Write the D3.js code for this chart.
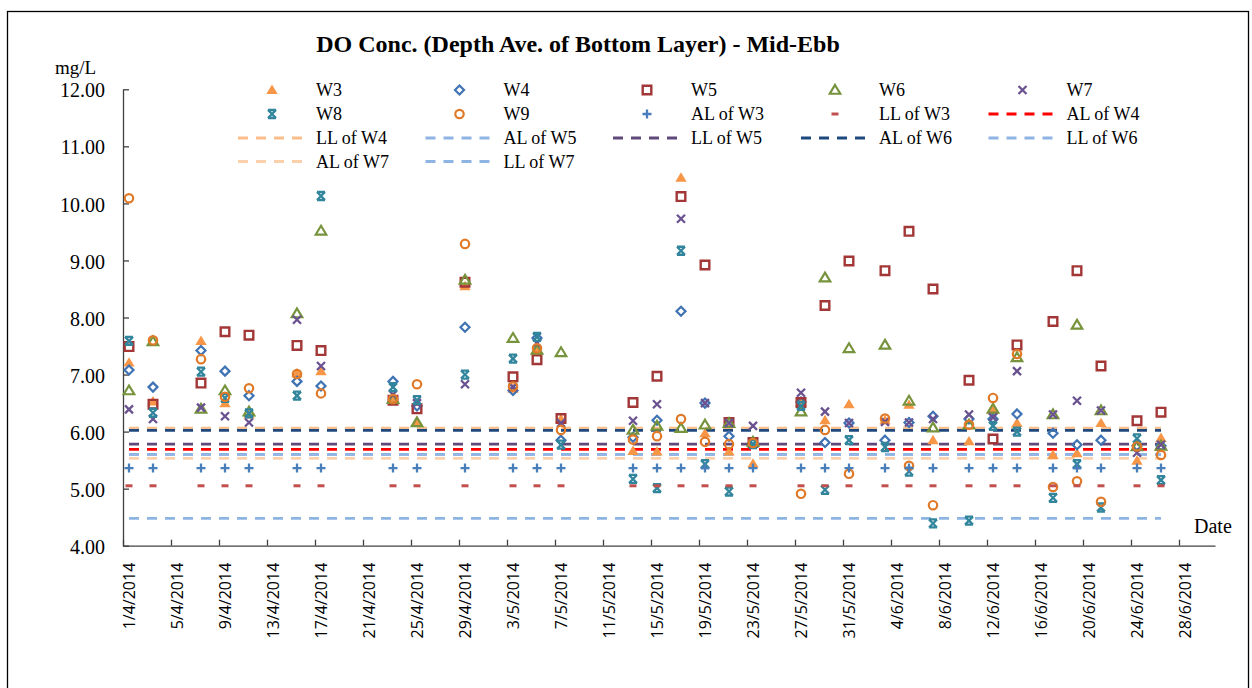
<!DOCTYPE html>
<html>
<head>
<meta charset="utf-8">
<script src="https://cdn.jsdelivr.net/npm/d3@7"></script>
<style>
  body { margin: 0; background: #fff; }
  svg { display: block; }
</style>
</head>
<body>
<div id="chart"></div>
<script>
// sampling dates (d/m/yyyy)
const dates = ["1/4/2014", "3/4/2014", "7/4/2014", "9/4/2014", "11/4/2014", "15/4/2014", "17/4/2014",
  "23/4/2014", "25/4/2014", "29/4/2014", "3/5/2014", "5/5/2014", "7/5/2014", "13/5/2014", "15/5/2014",
  "17/5/2014", "19/5/2014", "21/5/2014", "23/5/2014", "27/5/2014", "29/5/2014", "31/5/2014", "3/6/2014",
  "5/6/2014", "7/6/2014", "10/6/2014", "12/6/2014", "14/6/2014", "17/6/2014", "19/6/2014", "21/6/2014",
  "24/6/2014", "26/6/2014"];

const w3 = [7.21, 6.53, 7.59, 6.50, 6.30, 7.02, 7.06, 6.57, 6.18, 8.55, 6.75, 7.42, 6.22, 5.66, 5.65, 10.45, 5.97,
  5.65, 5.44, 6.52, 6.20, 6.48, 6.20, 6.47, 5.85, 5.83, 6.38, 6.15, 5.59, 5.62, 6.15, 5.49, 5.89];
const w4 = [7.08, 6.78, 7.42, 7.06, 6.63, 6.88, 6.80, 6.88, 6.45, 7.83, 6.72, 7.64, 5.85, 5.90, 6.20, 8.11, 6.50,
  5.92, 5.80, 6.52, 5.81, 6.15, 5.85, 6.16, 6.27, 6.22, 6.22, 6.31, 5.97, 5.77, 5.85, 5.75, 5.75];
const w5 = [7.49, 6.48, 6.85, 7.75, 7.69, 7.51, 7.42, 6.55, 6.40, 8.62, 6.96, 7.26, 6.23, 6.51, 6.97, 10.12, 8.92,
  6.16, 5.81, 6.51, 8.21, 8.99, 8.82, 9.51, 8.50, 6.90, 5.87, 7.52, 7.93, 8.82, 7.15, 6.19, 6.34];
const w6 = [6.72, 7.58, 6.40, 6.72, 6.35, 8.07, 9.52, 6.57, 6.16, 8.66, 7.64, 7.43, 7.39, 6.03, 6.10, 6.06, 6.12,
  6.15, 5.82, 6.35, 8.70, 7.46, 7.52, 6.54, 6.07, 6.12, 6.40, 7.30, 6.30, 7.87, 6.37, 5.74, 5.75];
const w7 = [6.39, 6.22, 6.42, 6.27, 6.16, 7.96, 7.15, 6.65, 6.50, 6.83, 6.78, 7.55, 6.15, 6.19, 6.48, 9.73, 6.50,
  6.15, 6.10, 6.68, 6.35, 6.15, 6.17, 6.16, 6.22, 6.30, 6.25, 7.06, 6.30, 6.54, 6.37, 5.63, 5.77];
const w8 = [7.59, 6.33, 7.05, 6.59, 6.32, 6.63, 10.13, 6.78, 6.55, 7.00, 7.28, 7.66, 5.77, 5.17, 5.01, 9.17, 5.43,
  4.95, 5.78, 6.45, 4.98, 5.85, 5.73, 5.30, 4.39, 4.44, 6.10, 6.00, 4.84, 5.43, 4.67, 5.88, 5.15];
const w9 = [10.09, 7.60, 7.27, 6.61, 6.76, 7.01, 6.67, 6.57, 6.83, 9.29, 6.79, 7.46, 6.03, 5.86, 5.92, 6.22, 5.82,
  5.78, 5.80, 4.91, 6.03, 5.26, 6.23, 5.40, 4.71, 6.12, 6.59, 7.36, 5.03, 5.13, 4.77, 5.74, 5.59];

// action / limit levels (mg/L)
const alW3 = 5.36, llW3 = 5.05;
const alW4 = 5.69, llW4 = 6.06;
const alW5 = 5.60, llW5 = 5.78;
const alW6 = 6.02, llW6 = 5.60;
const alW7 = 5.53, llW7 = 4.48;

const yTicks = [4, 5, 6, 7, 8, 9, 10, 11, 12];

const width = 1252;
const height = 688;

const svg = d3.select("#chart")
  .append("svg")
  .attr("width", width)
  .attr("height", height);

const serif = "'Liberation Serif', 'Times New Roman', serif";

svg.append("rect")
  .attr("x", 7.5).attr("y", 11.5)
  .attr("width", 1241).attr("height", 700)
  .attr("fill", "none")
  .attr("stroke", "#000")
  .attr("stroke-width", 1.3);

const parse = d3.timeParse("%d/%m/%Y");
const days = dates.map(parse);
const mid = d => d3.timeHour.offset(d, 12);

const x = d3.scaleTime()
  .domain([parse("1/4/2014"), parse("1/7/2014")])
  .range([123, 1215]);

const y = d3.scaleLinear()
  .domain([4, 12])
  .range([545.7, 89.3]);

// title + axis captions
svg.append("text")
  .attr("x", 578).attr("y", 52)
  .attr("text-anchor", "middle")
  .style("font-family", serif)
  .style("font-size", "24px")
  .style("font-weight", "bold")
  .text("DO Conc. (Depth Ave. of Bottom Layer) - Mid-Ebb");

svg.append("text")
  .attr("x", 55).attr("y", 74)
  .style("font-family", serif)
  .style("font-size", "19px")
  .text("mg/L");

svg.append("text")
  .attr("x", 1194).attr("y", 533)
  .style("font-family", serif)
  .style("font-size", "20px")
  .text("Date");

// axes
const yAxis = svg.append("g")
  .attr("transform", "translate(123,0)")
  .call(d3.axisLeft(y)
    .tickValues(yTicks)
    .tickFormat(d3.format(".2f"))
    .tickSizeInner(-6)
    .tickSizeOuter(0)
    .tickPadding(18));

yAxis.selectAll("text")
  .attr("dy", "0.38em")
  .style("font-family", serif)
  .style("font-size", "20px")
  .attr("fill", "#000");

const xTicks = d3.timeDay.range(parse("1/4/2014"), parse("29/6/2014"), 4);

const xAxis = svg.append("g")
  .attr("transform", "translate(0,545.7)")
  .call(d3.axisBottom(x)
    .tickValues(xTicks)
    .tickFormat(d3.timeFormat("%-d/%-m/%Y"))
    .tickSizeInner(-6)
    .tickSizeOuter(0));

xAxis.selectAll("text")
  .attr("transform", "rotate(-90)")
  .attr("text-anchor", "end")
  .attr("x", -17)
  .attr("y", 6)
  .attr("dy", "0.35em")
  .attr("fill", "#000")
  .style("font-family", "'Open Sans', sans-serif")
  .style("font-size", "16px");

svg.selectAll(".domain, .tick line")
  .attr("stroke", "#404040")
  .attr("stroke-width", 1.3);

// marker shapes
const shapes = {
  triangle: r => `M0,${-r}L${r * 1.05},${r * 0.75}L${-r * 1.05},${r * 0.75}Z`,
  diamond: r => `M0,${-r}L${r},0L0,${r}L${-r},0Z`,
  square: r => `M${-r},${-r}H${r}V${r}H${-r}Z`,
  circle: r => `M${r},0A${r},${r} 0 1,1 ${-r},0A${r},${r} 0 1,1 ${r},0`,
  cross: r => `M${-r},${-r}L${r},${r}M${r},${-r}L${-r},${r}`,
  star: r => `M${-r},${-r}L${r},${r}M${r},${-r}L${-r},${r}M${-r},${-r}H${r}M${-r},${r}H${r}`,
  plus: r => `M${-r},0H${r}M0,${-r}V${r}`,
  dash: r => `M${-r},0H${r}`
};

const markerSeries = [
  { name: "W3", values: w3, shape: "triangle", r: 5.4, fill: "#F79646", stroke: "none", sw: 0 },
  { name: "W4", values: w4, shape: "diamond", r: 4.5, fill: "none", stroke: "#3F73B3", sw: 2.2 },
  { name: "W5", values: w5, shape: "square", r: 4.3, fill: "none", stroke: "#A33636", sw: 2.4 },
  { name: "W6", values: w6, shape: "triangle", r: 5, fill: "none", stroke: "#77933C", sw: 2.2 },
  { name: "W7", values: w7, shape: "cross", r: 4, fill: "none", stroke: "#6A5290", sw: 2.3 },
  { name: "W8", values: w8, shape: "star", r: 4, fill: "none", stroke: "#31859C", sw: 2.3 },
  { name: "W9", values: w9, shape: "circle", r: 4.2, fill: "none", stroke: "#E07A28", sw: 2.2 },
  { name: "AL of W3", values: dates.map(() => alW3), shape: "plus", r: 4.5, fill: "none", stroke: "#4A7EBB", sw: 2.3 },
  { name: "LL of W3", values: dates.map(() => llW3), shape: "dash", r: 3.5, fill: "none", stroke: "#C0504D", sw: 3 }
];

const lineSeries = [
  { name: "AL of W4", value: alW4, color: "#FF0000" },
  { name: "LL of W4", value: llW4, color: "#F9BE8C" },
  { name: "AL of W5", value: alW5, color: "#8EB4E3" },
  { name: "LL of W5", value: llW5, color: "#604A7B" },
  { name: "AL of W6", value: alW6, color: "#1F497D" },
  { name: "LL of W6", value: llW6, color: "#8EB4E3" },
  { name: "AL of W7", value: alW7, color: "#FCD0AA" },
  { name: "LL of W7", value: llW7, color: "#8EB4E3" }
];

// limit lines across the sampled period
const line = d3.line()
  .x(d => x(mid(d[0])))
  .y(d => y(d[1]));

svg.append("g")
  .selectAll("path")
  .data(lineSeries)
  .join("path")
  .attr("d", s => line(days.map(d => [d, s.value])))
  .attr("fill", "none")
  .attr("stroke", s => s.color)
  .attr("stroke-width", 2.8)
  .attr("stroke-dasharray", "10,8");

// sample markers
markerSeries.forEach(s => {
  svg.append("g")
    .selectAll("path")
    .data(s.values.map((v, i) => [days[i], v]))
    .join("path")
    .attr("transform", d => `translate(${x(mid(d[0]))},${y(d[1])})`)
    .attr("d", shapes[s.shape](s.r))
    .attr("fill", s.fill)
    .attr("stroke", s.stroke)
    .attr("stroke-width", s.sw);
});

// legend, 5 columns
const legendItems = markerSeries.map(s => ({ ...s, kind: "marker" }))
  .concat(lineSeries.map(s => ({ ...s, kind: "line" })));
const colX = [271, 458.5, 646, 834, 1021.5];
const rowY = [90, 114, 138, 161.5];

const legend = svg.append("g")
  .selectAll("g")
  .data(legendItems)
  .join("g")
  .attr("transform", (d, i) => `translate(${colX[i % 5]},${rowY[Math.floor(i / 5)]})`);

legend.filter(d => d.kind === "marker")
  .append("path")
  .attr("transform", "translate(1,0)")
  .attr("d", d => shapes[d.shape](d.r))
  .attr("fill", d => d.fill)
  .attr("stroke", d => d.stroke)
  .attr("stroke-width", d => d.sw);

legend.filter(d => d.kind === "line")
  .append("line")
  .attr("x1", -33).attr("x2", 31)
  .attr("stroke", d => d.color)
  .attr("stroke-width", 2.8)
  .attr("stroke-dasharray", "10,8");

legend.append("text")
  .attr("x", 45)
  .attr("y", 6)
  .style("font-family", serif)
  .style("font-size", "18px")
  .text(d => d.name);
</script>
</body>
</html>
